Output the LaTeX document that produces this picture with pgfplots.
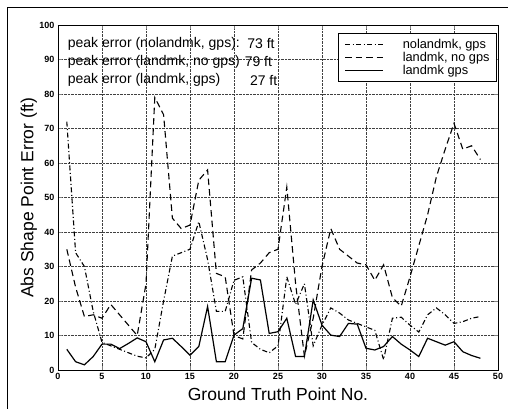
\documentclass[border=0pt]{standalone}
\usepackage{fontspec}
\setmainfont{Liberation Sans}
\usepackage{pgfplots}
\usepackage{pgfplotstable}
\pgfplotsset{compat=1.18}

% a = nolandmk, gps ; b = landmk, no gps ; c = landmk gps
\pgfplotstableread{
x a b c
1 72 35 6
2 34 24 2.4
3 30 15.5 1.5
4 17 16 3.9
5 8 15 7.5
6 7 19 7.5
7 6 16 6.2
8 5 13 7.7
9 4 10 9.3
10 3.5 25 8.2
11 6 79 2.4
12 20 74 8.7
13 33 44 9.2
14 34 41 6.8
15 35 42 4.3
16 43 55 6.8
17 32 58 18.4
18 17 28 2.4
19 17 27 2.4
20 26 10 10.1
21 27 9 12
22 8 29 26.6
23 6 31 26.1
24 5 34 10.6
25 7 35 11.1
26 27 53 15
27 19 25 3.9
28 25 4 3.9
29 7 15 20.3
30 13 30 13
31 18 41 10.1
32 16.5 35 9.7
33 14.5 33 13.5
34 13.5 31 13.3
35 12.5 30.5 6.3
36 11.5 26 5.8
37 3 30.5 6.8
38 15 21 9.7
39 15.3 18.5 7.5
40 13 27 5.8
41 11 36 3.9
42 16 45 9.2
43 18 56 8.2
44 16 64 7.2
45 13.5 71.5 8.2
46 14 64 5.3
47 15 65 4.2
48 15.5 61 3.4
}\errdata

\begin{document}
\begin{tikzpicture}
\begin{axis}[
  scale only axis, width=440pt, height=345pt,
  xmin=0, xmax=50, ymin=0, ymax=100,
  xtick={0,5,...,50}, ytick={0,10,...,100},
  tick align=inside, xtick pos=both, ytick pos=both,
  major tick length=4pt,
  axis line style={line width=0.9pt},
  grid=major, major grid style={densely dotted, black!75, line width=0.5pt},
  ticklabel style={font=\fontsize{9}{10}\selectfont\bfseries},
  /pgf/number format/assume math mode=true,
  xlabel={Ground Truth Point No.}, ylabel={Abs Shape Point Error (ft)},
  label style={font=\fontsize{17.5}{20}\selectfont},
  xlabel style={at={(axis description cs:0.5,-0.07)}, anchor=center},
  ylabel style={at={(axis description cs:-0.066,0.5)}, anchor=center},
  legend style={at={(axis description cs:0.9977,0.977)}, anchor=north east,
    draw=black, line width=0.8pt, font=\fontsize{12.8}{13}\selectfont,
    nodes={inner sep=1pt}, inner xsep=6pt, inner ysep=5pt, row sep=0pt,
    /tikz/every odd column/.append style={column sep=18pt}},
  legend cell align=left,
  legend image code/.code={\draw[#1] (0pt,0pt) -- (38pt,0pt);},
]
\addplot[black, line width=1.1pt, dash pattern=on 5pt off 2.5pt on 1pt off 2.5pt] table[x=x,y=a]\errdata;
\addplot[black, line width=1.1pt, dash pattern=on 6.5pt off 4pt] table[x=x,y=b]\errdata;
\addplot[black, line width=1.2pt] table[x=x,y=c]\errdata;
\legend{{nolandmk, gps},{landmk, no gps},{landmk gps}}

\node[anchor=west, font=\fontsize{14}{16}\selectfont, inner sep=0pt] at (axis cs:1.1,94.5) {peak error (nolandmk, gps):};
\node[anchor=west, font=\fontsize{14}{16}\selectfont, inner sep=0pt] at (axis cs:1.1,89.3) {peak error (landmk, no gps)};
\node[anchor=west, font=\fontsize{14}{16}\selectfont, inner sep=0pt] at (axis cs:1.1,84.0) {peak error (landmk, gps)};
\node[anchor=west, font=\fontsize{14}{16}\selectfont, inner sep=0pt] at (axis cs:21.5,94.5) {73 ft};
\node[anchor=west, font=\fontsize{14}{16}\selectfont, inner sep=0pt] at (axis cs:21.2,89.3) {79 ft};
\node[anchor=west, font=\fontsize{14}{16}\selectfont, inner sep=0pt] at (axis cs:21.8,84.0) {27 ft};
\end{axis}
\pgfresetboundingbox
\path[use as bounding box] (-58pt,-39pt) rectangle (450pt,370pt);
\draw[line width=1pt] (-50pt,-39pt) -- (-50pt,362pt) -- (450pt,362pt);
\end{tikzpicture}
\end{document}
